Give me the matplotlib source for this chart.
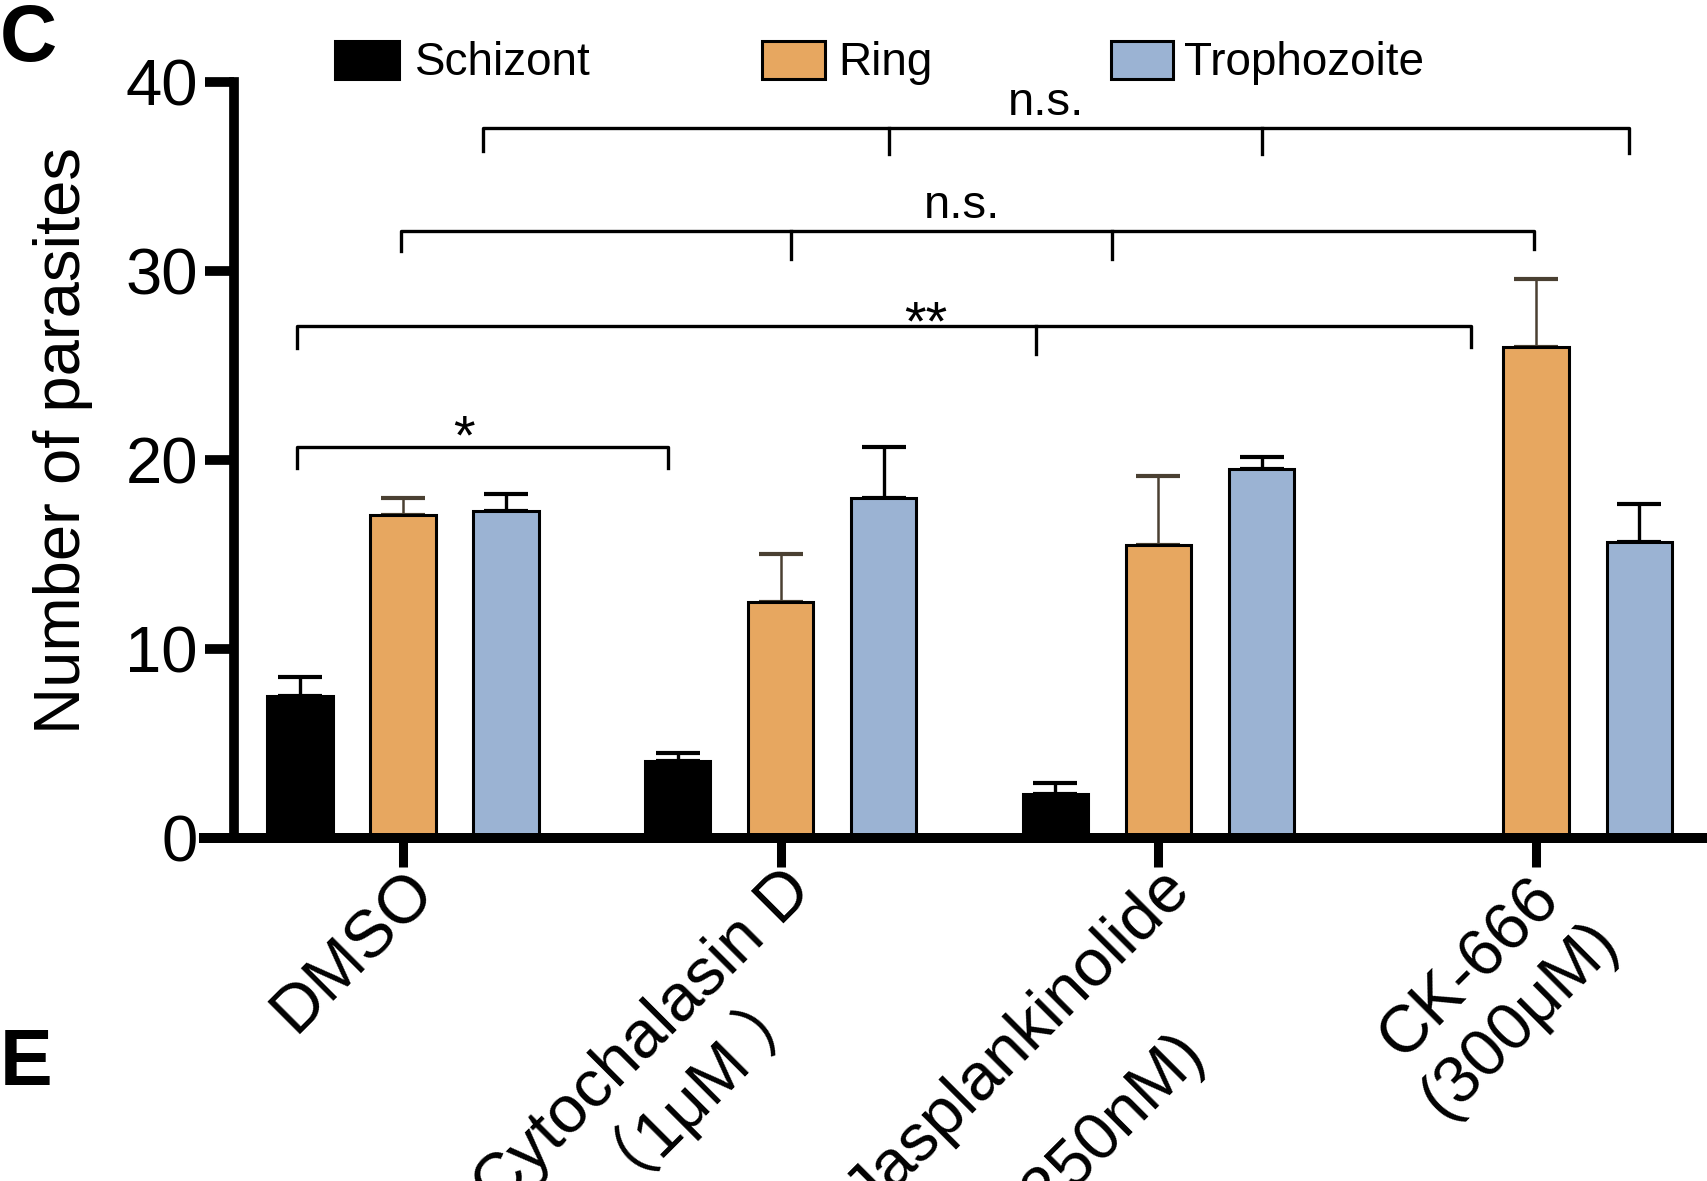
import matplotlib
matplotlib.use('Agg')
import matplotlib.pyplot as plt
import numpy as np
from matplotlib.patches import Rectangle

plt.rcParams['font.family'] = ['Liberation Sans', 'Noto Sans CJK SC', 'DejaVu Sans']

# ---------------- data ----------------
categories = ["DMSO", "Cytochalasin D\n（1μM ）", "Jasplankinolide\n(250nM)", "CK-666\n(300μM)"]
series = ["Schizont", "Ring", "Trophozoite"]
schizont_mean = [7.5, 4.05, 2.35, 0.0]
schizont_err = [1.0, 0.45, 0.55, 0.0]
ring_mean = [17.1, 12.5, 15.5, 26.0]
ring_err = [0.9, 2.55, 3.65, 3.6]
troph_mean = [17.3, 18.0, 19.5, 15.65]
troph_err = [0.9, 2.7, 0.65, 2.0]
yticks = [0, 10, 20, 30, 40]
ylabel = "Number of parasites"
sig_texts = ["*", "**", "n.s.", "n.s."]

# ---------------- style ----------------
colors = ["#000000", "#E7A760", "#9BB3D3"]
err_colors = ["#000000", "#4a4032", "#000000"]
err_lw = [2.4, 1.8, 2.4]

W, H = 1708, 1181
fig = plt.figure(figsize=(W / 100, H / 100), dpi=100)
ax_left, ax_right, ax_bottom, ax_top = 204, 1708, 838, 82
ax = fig.add_axes([ax_left / W, 1 - ax_bottom / H, (ax_right - ax_left) / W, (ax_bottom - ax_top) / H])

x = np.arange(len(categories))
offsets = [-0.273, 0.0, 0.273]
width = 0.173
means = [schizont_mean, ring_mean, troph_mean]
errs = [schizont_err, ring_err, troph_err]

for i in range(3):
    m = np.array(means[i], dtype=float)
    e = np.array(errs[i], dtype=float)
    xi = x + offsets[i]
    ax.bar(xi, m, width=width, color=colors[i], edgecolor='black', linewidth=2.2, zorder=2, label=series[i])
    mask = m > 0
    ax.errorbar(xi[mask], m[mask], yerr=[np.zeros(mask.sum()), e[mask]], fmt='none',
                ecolor=err_colors[i], elinewidth=err_lw[i], capsize=16, capthick=3.0, zorder=1)

ax.set_xlim((ax_left - 403) / 377.7, (ax_right - 403) / 377.7)
ax.set_ylim(0, 40)
for s in ['top', 'right']:
    ax.spines[s].set_visible(False)
ax.spines['left'].set_position(('data', (234 - 403) / 377.7))
ax.spines['left'].set_linewidth(7.0)
ax.spines['bottom'].set_linewidth(7.2)
ax.spines['left'].set_zorder(5)
ax.spines['bottom'].set_zorder(5)

ax.set_yticks(yticks)
ax.set_yticklabels([str(v) for v in yticks], fontsize=47)
ax.tick_params(axis='y', length=21, width=7.0, pad=5)
ax.set_xticks(x)
xlabels = ax.set_xticklabels(categories, fontsize=48, rotation=45, ha='right', va='top',
                             rotation_mode='anchor', multialignment='center')
xlabels[2].set_linespacing(2.3)
ax.tick_params(axis='x', length=21, width=6.5, pad=-6)

fig.text(80 / W, 1 - 441 / H, ylabel, rotation=90, rotation_mode='anchor',
         ha='center', va='baseline', fontsize=47)

# ---------------- significance brackets ----------------
blw = 2.4
def bracket(x0, x1, y, leg0, leg1, mids, midlen):
    ax.plot([x0, x0, x1, x1], [y - leg0, y, y, y - leg1], color='black', lw=blw,
            clip_on=False, solid_joinstyle='round', zorder=3)
    for xm in mids:
        ax.plot([xm, xm], [y, y - midlen], color='black', lw=blw, clip_on=False, zorder=3)

bracket(-0.280, 0.701, 20.70, 1.12, 1.12, [], 0)
ax.text(0.161, 20.37, sig_texts[0], ha='center', va='baseline', fontsize=40)

bracket(-0.280, 2.827, 27.10, 1.20, 1.10, [1.676], 1.50)
ax.text(1.385, 26.40, sig_texts[1], ha='center', va='baseline', fontsize=40)

bracket(-0.006, 2.994, 32.12, 1.04, 0.95, [1.027, 1.878], 1.50)
ax.text(1.480, 32.79, sig_texts[2], ha='center', va='baseline', fontsize=34)

bracket(0.211, 3.245, 37.58, 1.25, 1.35, [1.286, 2.273], 1.38)
ax.text(1.703, 38.25, sig_texts[3], ha='center', va='baseline', fontsize=34)

# ---------------- legend ----------------
leg_patches = [(335, 399), (762, 825), (1111, 1173)]
leg_text_x = [415, 838, 1184]
for i in range(3):
    px0, px1 = leg_patches[i]
    fig.add_artist(Rectangle((px0 / W, 1 - 79 / H), (px1 - px0) / W, 38 / H,
                             transform=fig.transFigure, facecolor=colors[i],
                             edgecolor='black', linewidth=2.2))
    fig.text(leg_text_x[i] / W, 1 - 75 / H, series[i], ha='left', va='baseline', fontsize=33)

# panel letters
fig.text(0 / W, 1 - 61 / H, "C", ha='left', va='baseline', fontsize=57, fontweight='bold')
fig.text(0 / W, 1 - 1085 / H, "E", ha='left', va='baseline', fontsize=57, fontweight='bold')

fig.savefig('out.png', dpi=100)
